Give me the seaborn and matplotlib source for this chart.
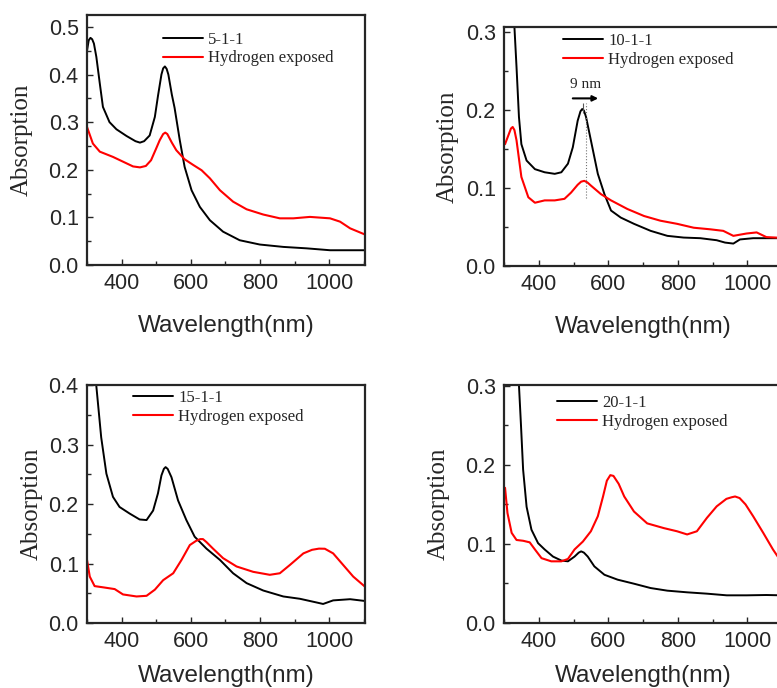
import matplotlib

matplotlib.use("Agg")

import matplotlib.pyplot as plt
import seaborn as sns

# 5-1-1 panel
wl_511 = [300, 305, 310, 315, 320, 327, 337, 346, 365, 385, 414, 440, 453, 465, 481, 496, 505, 515, 520, 525,
          530, 535, 545, 553, 568, 582, 602, 626, 655, 693, 741, 799, 867, 934, 1002, 1103]
abs_511 = [0.450, 0.472, 0.477, 0.474, 0.465, 0.437, 0.381, 0.332, 0.300, 0.285, 0.271, 0.260, 0.257, 0.260,
           0.272, 0.311, 0.355, 0.400, 0.413, 0.417, 0.412, 0.400, 0.358, 0.330, 0.262, 0.206, 0.157, 0.122,
           0.094, 0.070, 0.052, 0.043, 0.038, 0.035, 0.031, 0.031]
wl_511_h = [300, 317, 337, 375, 404, 433, 453, 470, 485, 500, 510, 520, 526, 532, 545, 558, 582, 607, 631, 655,
            684, 722, 761, 809, 857, 896, 944, 1002, 1031, 1060, 1103]
abs_511_h = [0.290, 0.255, 0.238, 0.227, 0.217, 0.207, 0.205, 0.208, 0.220, 0.245, 0.262, 0.275, 0.278, 0.275,
             0.257, 0.241, 0.222, 0.210, 0.199, 0.182, 0.157, 0.133, 0.117, 0.106, 0.098, 0.098, 0.101, 0.098,
             0.091, 0.077, 0.064]

# 10-1-1 panel
wl_1011 = [322, 330, 336, 343, 350, 365, 389, 417, 446, 465, 484, 498, 512, 520, 525, 530, 536, 550, 570, 589,
           608, 636, 674, 722, 770, 817, 865, 912, 936, 960, 979, 1017, 1055, 1100]
abs_1011 = [0.400, 0.306, 0.255, 0.191, 0.156, 0.135, 0.124, 0.120, 0.118, 0.120, 0.131, 0.152, 0.186, 0.198,
            0.201, 0.199, 0.191, 0.161, 0.118, 0.092, 0.071, 0.062, 0.054, 0.045, 0.0386, 0.0364, 0.0356, 0.033,
            0.030, 0.0287, 0.034, 0.0356, 0.0356, 0.0356]
wl_1011_h = [303, 314, 320, 325, 330, 336, 350, 370, 389, 417, 446, 474, 493, 512, 522, 531, 540, 550, 579, 608,
             655, 703, 750, 798, 846, 893, 931, 960, 998, 1027, 1055, 1100]
abs_1011_h = [0.156, 0.169, 0.176, 0.178, 0.174, 0.161, 0.114, 0.088, 0.081, 0.084, 0.084, 0.086, 0.094, 0.104,
              0.108, 0.109, 0.107, 0.103, 0.092, 0.084, 0.073, 0.064, 0.058, 0.054, 0.049, 0.047, 0.045, 0.0386,
              0.0416, 0.043, 0.037, 0.036]

# 15-1-1 panel
wl_1511 = [320, 327, 341, 356, 375, 394, 423, 452, 472, 491, 505, 515, 522, 527, 533, 544, 563, 587, 611, 645,
           684, 722, 761, 809, 867, 915, 963, 982, 1011, 1060, 1103]
abs_1511 = [0.450, 0.398, 0.312, 0.251, 0.212, 0.195, 0.184, 0.174, 0.173, 0.189, 0.218, 0.248, 0.259, 0.262,
            0.259, 0.245, 0.206, 0.173, 0.145, 0.125, 0.106, 0.0836, 0.067, 0.0546, 0.0446, 0.0407, 0.0345,
            0.032, 0.038, 0.040, 0.037]
wl_1511_h = [300, 308, 322, 346, 380, 404, 443, 472, 496, 520, 549, 573, 597, 615, 627, 635, 645, 664, 693, 732,
             780, 828, 857, 886, 925, 950, 970, 987, 1011, 1040, 1069, 1103]
abs_1511_h = [0.106, 0.078, 0.062, 0.060, 0.057, 0.048, 0.0446, 0.0457, 0.056, 0.072, 0.0836, 0.106, 0.131,
              0.138, 0.141, 0.141, 0.136, 0.125, 0.109, 0.095, 0.086, 0.081, 0.0836, 0.0975, 0.117, 0.123, 0.125,
              0.1248, 0.117, 0.0975, 0.078, 0.061]

# 20-1-1 panel
wl_2011 = [338, 343, 349, 355, 365, 379, 398, 417, 441, 465, 484, 503, 515, 522, 530, 541, 560, 589, 627, 674,
           722, 770, 827, 884, 941, 998, 1055, 1100]
abs_2011 = [0.360, 0.301, 0.249, 0.194, 0.147, 0.118, 0.101, 0.093, 0.084, 0.079, 0.078, 0.084, 0.089, 0.0906,
            0.089, 0.084, 0.0716, 0.061, 0.0548, 0.0497, 0.0442, 0.0409, 0.0388, 0.0371, 0.035, 0.035, 0.0354,
            0.035]
wl_2011_h = [303, 310, 322, 336, 355, 374, 389, 408, 436, 465, 484, 503, 527, 550, 570, 585, 596, 606, 615, 630,
             646, 674, 712, 760, 798, 827, 855, 884, 912, 940, 955, 965, 978, 995, 1017, 1046, 1074, 1100]
abs_2011_h = [0.171, 0.139, 0.114, 0.105, 0.104, 0.102, 0.093, 0.082, 0.078, 0.078, 0.081, 0.093, 0.103, 0.116,
              0.135, 0.160, 0.180, 0.187, 0.186, 0.176, 0.160, 0.141, 0.126, 0.120, 0.116, 0.112, 0.116, 0.133,
              0.1475, 0.157, 0.159, 0.160, 0.158, 0.150, 0.135, 0.114, 0.093, 0.076]

sns.set_style("ticks")
plt.rcParams["font.family"] = ["Liberation Sans", "DejaVu Sans"]

W, H = 777, 688
fig = plt.figure(figsize=(W / 100, H / 100), dpi=100)


def make_axes(left, bottom, width, height):
    return fig.add_axes([left / W, 1 - bottom / H, width / W, height / H])


def draw_panel(ax, wl, ab, wl_h, ab_h, name, xlim, ylim, yticks, leg_anchor, ypad, xpad):
    sns.lineplot(x=wl, y=ab, color="black", lw=1.4, ax=ax, label=name, estimator=None)
    sns.lineplot(x=wl_h, y=ab_h, color="#ff0000", lw=1.5, ax=ax, label="Hydrogen exposed", estimator=None)
    ax.set_xlim(*xlim)
    ax.set_ylim(*ylim)
    ax.set_xticks([400, 600, 800, 1000])
    ax.set_xticks([300, 500, 700, 900, 1100], minor=True)
    ax.set_yticks(yticks)
    ax.set_yticks([t + (yticks[1] - yticks[0]) / 2 for t in yticks[:-1]], minor=True)
    ax.set_yticklabels([f"{t:.1f}" for t in yticks])
    ax.tick_params(which="both", direction="in", top=False, right=False, width=1)
    ax.tick_params(which="major", length=4, labelsize=15.5, pad=6)
    ax.tick_params(which="minor", length=3)
    for sp in ax.spines.values():
        sp.set_linewidth(1.6)
    ax.set_xlabel("Wavelength(nm)", fontsize=17.5, labelpad=xpad)
    ax.set_ylabel("Absorption", fontsize=18, family="Liberation Serif", labelpad=ypad)
    ax.legend(loc="upper left", bbox_to_anchor=leg_anchor, frameon=False, borderpad=0, borderaxespad=0,
              handlelength=2.4, handletextpad=0.3, labelspacing=0.15,
              prop={"family": "Liberation Serif", "size": 12})


ax1 = make_axes(87, 265, 278, 250)
draw_panel(ax1, wl_511, abs_511, wl_511_h, abs_511_h, "5-1-1", (300, 1103), (0, 0.525),
           [0.0, 0.1, 0.2, 0.3, 0.4, 0.5], (76 / 278, 1 - 17 / 250), 11, 15)

ax2 = make_axes(504, 266, 278, 239)
draw_panel(ax2, wl_1011, abs_1011, wl_1011_h, abs_1011_h, "10-1-1", (305, 1100), (0, 0.306),
           [0.0, 0.1, 0.2, 0.3], (59 / 278, 1 - 6 / 239), 5, 15)
ax2.annotate("", xy=(579, 0.2146), xytext=(490, 0.2146),
             arrowprops=dict(arrowstyle="-|>", color="black", lw=1.5, mutation_scale=8))
ax2.text(536, 0.224, "9 nm", ha="center", va="bottom", fontsize=11, family="Liberation Serif")
ax2.vlines(527, 0.196, 0.209, color="0.35", lw=0.8)
ax2.vlines(536, 0.087, 0.209, color="0.45", lw=0.8, linestyles=":")

ax3 = make_axes(87, 623, 278, 238)
draw_panel(ax3, wl_1511, abs_1511, wl_1511_h, abs_1511_h, "15-1-1", (300, 1103), (0, 0.398),
           [0.0, 0.1, 0.2, 0.3, 0.4], (46 / 278, 1 - 5 / 238), 4, 9)

ax4 = make_axes(504, 623, 278, 238)
draw_panel(ax4, wl_2011, abs_2011, wl_2011_h, abs_2011_h, "20-1-1", (305, 1100), (0, 0.301),
           [0.0, 0.1, 0.2, 0.3], (53 / 278, 1 - 10 / 238), 11, 9)

fig.savefig("out.png", dpi=100)
plt.close(fig)
